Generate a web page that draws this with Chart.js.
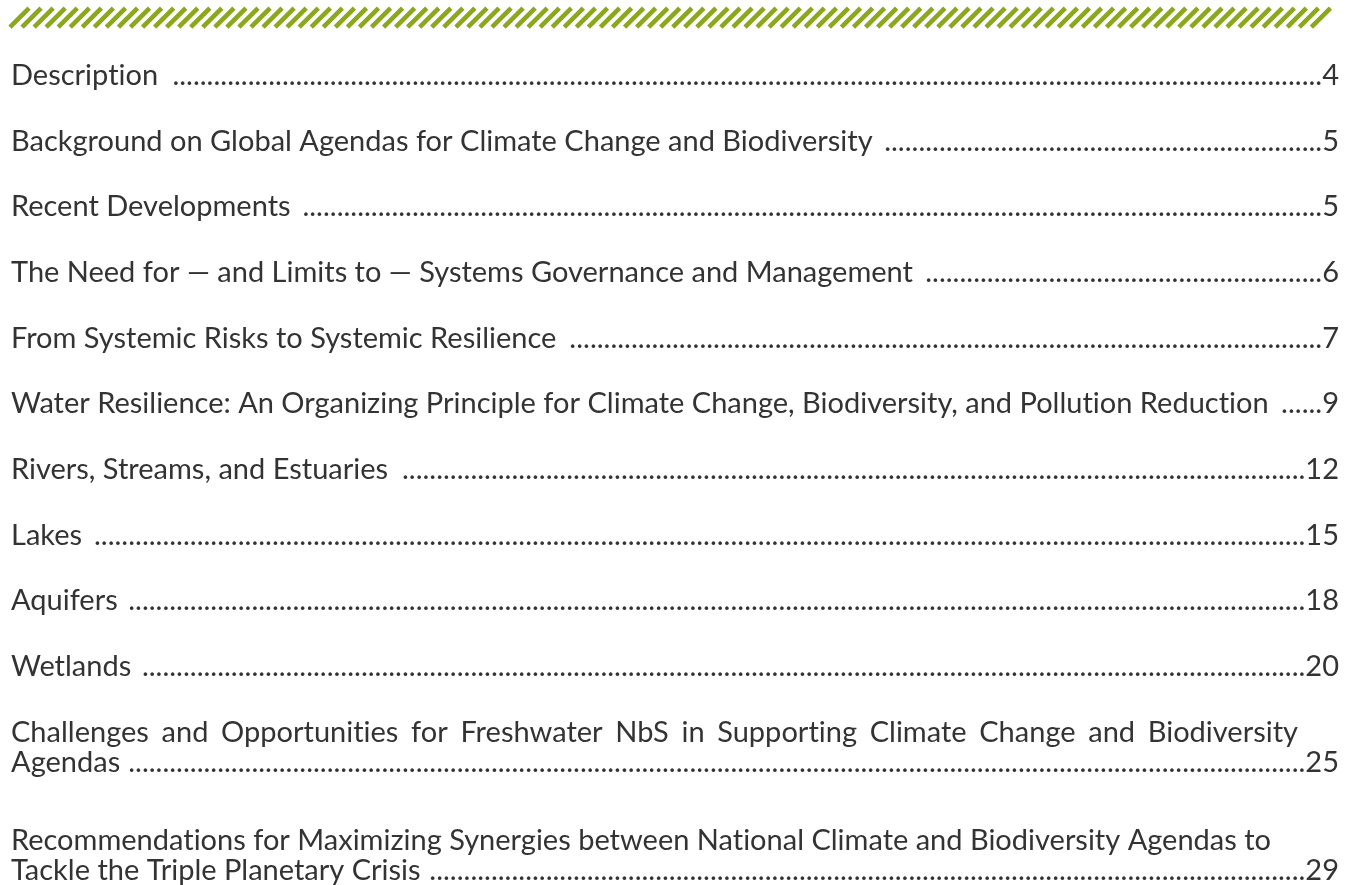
<!DOCTYPE html>
<html>
<head>
<meta charset="utf-8">
<script src="https://cdn.jsdelivr.net/npm/chart.js@4/dist/chart.umd.min.js"></script>
<style>
  html, body { margin: 0; padding: 0; background: #fff; }
  #wrap { width: 1355px; height: 885px; position: relative; }
</style>
</head>
<body>
<div id="wrap"><canvas id="toc"></canvas></div>
<script>
// table of contents entries, wrapped lines split by \n
const titles = [
	"Description",
	"Background on Global Agendas for Climate Change and Biodiversity",
	"Recent Developments",
	"The Need for \u2014 and Limits to \u2014 Systems Governance and Management",
	"From Systemic Risks to Systemic Resilience",
	"Water Resilience: An Organizing Principle for Climate Change, Biodiversity, and Pollution Reduction",
	"Rivers, Streams, and Estuaries",
	"Lakes",
	"Aquifers",
	"Wetlands",
	"Challenges and Opportunities for Freshwater NbS in Supporting Climate Change and Biodiversity\nAgendas",
	"Recommendations for Maximizing Synergies between National Climate and Biodiversity Agendas to\nTackle the Triple Planetary Crisis"
];
const pages = [4, 5, 5, 6, 7, 9, 12, 15, 18, 20, 25, 29];
// entries whose first line is soft-wrapped (justified to the margin)
const softWrapped = [10];

const green = "#8ba71c";
const ink = "#333333";
const font = "29px Lato";
const lineStep = 0.462; // wrapped line offset, in row units
const entryExtra = 0.644; // extra advance after each wrapped line

// row position of every entry (first line baseline)
let rows = [];
let r = 0;
for (let i = 0; i < titles.length; i++) {
	rows.push(r);
	r += 1 + (titles[i].split("\n").length - 1) * entryExtra;
}

// stop Lato from joining "ti" into a ligature
function noLig(s) {
	return s.replace(/t(?=i)/g, "t\u200C").replace(/f(?=[il])/g, "f\u200C");
}

function drawJustified(ctx, line, x, y, width) {
	const words = line.split(" ");
	let total = 0;
	words.forEach(function(w) { total += ctx.measureText(noLig(w)).width; });
	const gap = (width - total) / (words.length - 1);
	words.forEach(function(w) {
		ctx.fillText(noLig(w), x, y);
		x += ctx.measureText(noLig(w)).width + gap;
	});
}

const tocPlugin = {
	id: "toc",
	afterDraw(chart) {
		const ctx = chart.ctx;
		const y = chart.scales.y;
		const left = chart.chartArea.left;
		const right = chart.chartArea.right;
		ctx.save();

		// hatched band across the top
		const top = y.getPixelForValue(-1.17);
		const bot = y.getPixelForValue(-0.88);
		const h = bot - top;
		ctx.strokeStyle = green;
		ctx.lineWidth = 4.6;
		ctx.lineCap = "butt";
		for (let x = left - 1; x + h <= right; x += 12.05) {
			ctx.beginPath();
			ctx.moveTo(x, bot);
			ctx.lineTo(x + h, top);
			ctx.stroke();
		}

		ctx.font = font;
		ctx.fillStyle = ink;
		ctx.textBaseline = "alphabetic";
		const dotW = ctx.measureText(".").width;
		const spaceW = ctx.measureText(" ").width;
		const margin = right - 41;

		titles.forEach(function(t, i) {
			const lines = t.split("\n");
			let last = 0;
			lines.forEach(function(line, j) {
				const py = y.getPixelForValue(rows[i] + j * lineStep);
				ctx.textAlign = "left";
				if (j < lines.length - 1 && softWrapped.includes(i)) {
					drawJustified(ctx, line, left, py, margin - left);
				} else {
					ctx.fillText(noLig(line), left, py);
				}
				last = py;
			});
			const lastLine = noLig(lines[lines.length - 1]);
			const endX = left + ctx.measureText(lastLine).width + spaceW;
			const num = String(pages[i]);
			ctx.textAlign = "right";
			ctx.fillText(num, right, last);
			const numX = right - ctx.measureText(num).width;
			const n = Math.floor((numX - endX) / dotW);
			ctx.fillText(".".repeat(Math.max(n, 0)), numX, last);
		});
		ctx.restore();
	}
};

const ctx = document.getElementById("toc").getContext("2d");
const tocChart = new Chart(ctx, {
	type: "scatter",
	data: {
		datasets: [{
			data: rows.map(function(v, i) { return { x: pages[i], y: v }; }),
			pointRadius: 0
		}]
	},
	options: {
		responsive: true,
		maintainAspectRatio: false,
		animation: false,
		events: [],
		layout: { padding: { left: 11, right: 16, top: 0, bottom: 0 } },
		plugins: { legend: { display: false }, tooltip: { enabled: false } },
		scales: {
			x: { display: false, min: 0, max: 30 },
			y: { display: false, reverse: true, min: -1.294, max: 12.18 }
		}
	},
	plugins: [tocPlugin]
});
</script>
</body>
</html>
